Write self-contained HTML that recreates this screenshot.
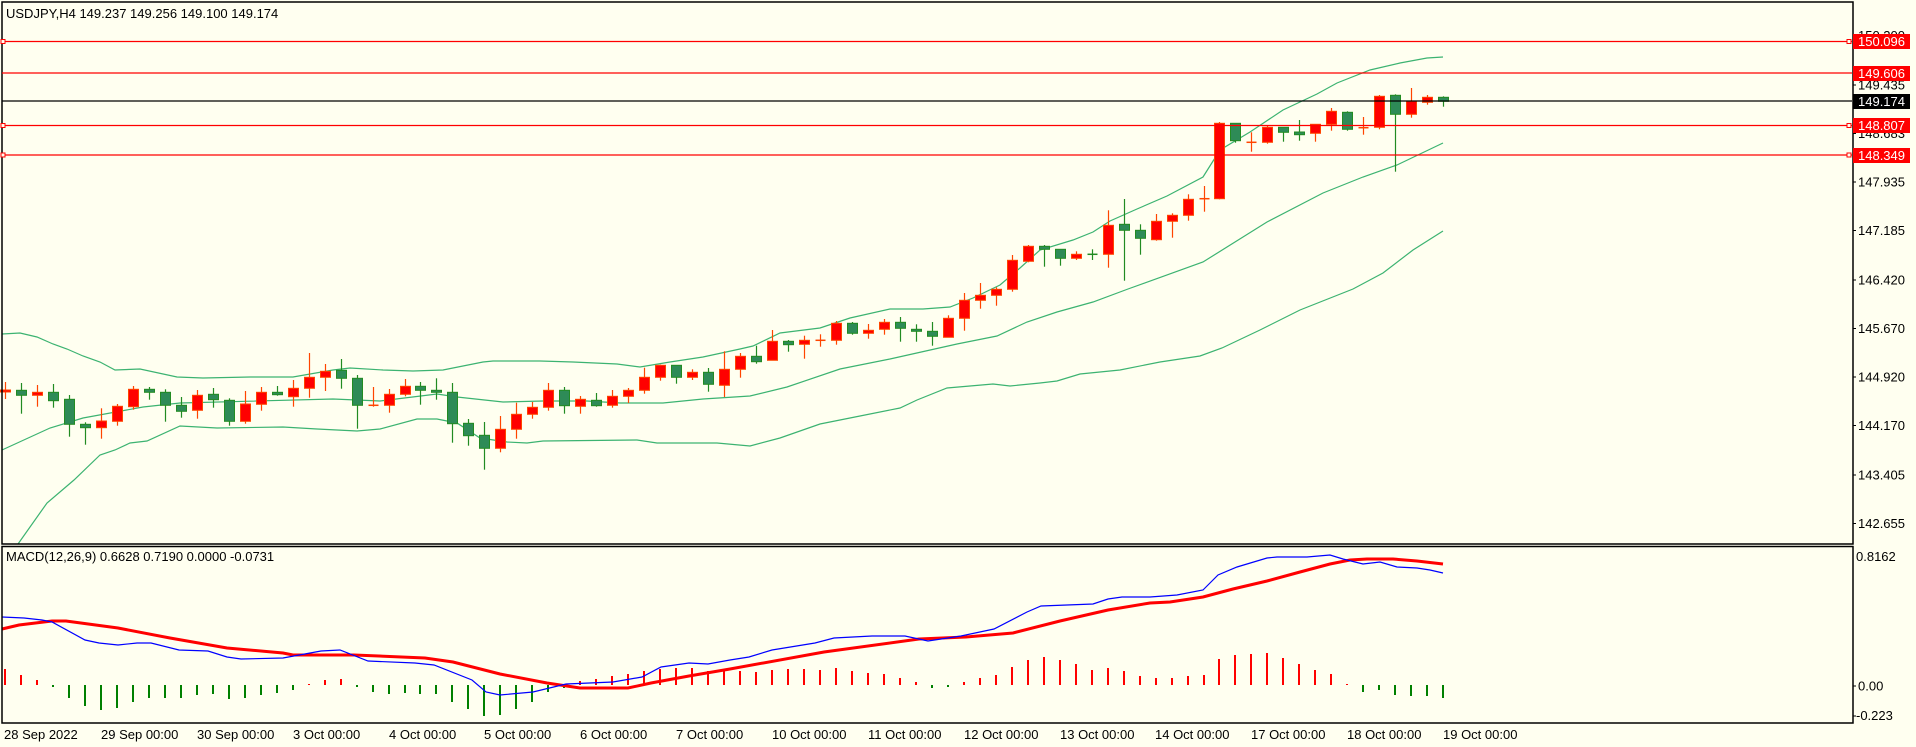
<!DOCTYPE html>
<html><head><meta charset="utf-8"><style>
html,body{margin:0;padding:0;background:#fffff0;}
svg{display:block;font-family:"Liberation Sans",sans-serif;}
</style></head><body>
<svg id="s" width="1916" height="747" xmlns="http://www.w3.org/2000/svg">
<rect width="1916" height="747" fill="#fffff0"/>
<g id="g"></g>
<!-- borders -->
<rect x="2" y="2" width="1851" height="542" fill="none" stroke="#000" stroke-width="1.5"/>
<rect x="2" y="546.5" width="1851" height="176.5" fill="none" stroke="#000" stroke-width="1.5"/>
<text x="6" y="18" font-size="13">USDJPY,H4  149.237 149.256 149.100 149.174</text>
<text x="6" y="561" font-size="13">MACD(12,26,9) 0.6628 0.7190 0.0000 -0.0731</text>
<g font-size="13" fill="#000">
<text x="1858" y="40">150.200</text>
<text x="1858" y="89.5">149.435</text>
<text x="1858" y="138">148.683</text>
<text x="1858" y="186.5">147.935</text>
<text x="1858" y="235">147.185</text>
<text x="1858" y="284.5">146.420</text>
<text x="1858" y="333">145.670</text>
<text x="1858" y="381.5">144.920</text>
<text x="1858" y="430">144.170</text>
<text x="1858" y="479.5">143.405</text>
<text x="1858" y="528">142.655</text>
<text x="1856" y="561">0.8162</text>
<text x="1858" y="690.5">0.00</text>
<text x="1856" y="720">-0.223</text>
</g>
<g stroke="#000" stroke-width="1">
<line x1="1853" y1="35.5" x2="1856" y2="35.5"/><line x1="1853" y1="85" x2="1856" y2="85"/>
<line x1="1853" y1="133.5" x2="1856" y2="133.5"/><line x1="1853" y1="182" x2="1856" y2="182"/>
<line x1="1853" y1="230.5" x2="1856" y2="230.5"/><line x1="1853" y1="280" x2="1856" y2="280"/>
<line x1="1853" y1="328.5" x2="1856" y2="328.5"/><line x1="1853" y1="377" x2="1856" y2="377"/>
<line x1="1853" y1="425.5" x2="1856" y2="425.5"/><line x1="1853" y1="475" x2="1856" y2="475"/>
<line x1="1853" y1="523.5" x2="1856" y2="523.5"/><line x1="1853" y1="686" x2="1856" y2="686"/>
<line x1="1853" y1="716" x2="1856" y2="716"/>
</g>
<!-- horizontal lines -->
<g stroke="#ff0000" stroke-width="1.2">
<line x1="2" y1="41.5" x2="1852" y2="41.5"/>
<line x1="2" y1="73" x2="1852" y2="73"/>
<line x1="2" y1="125.5" x2="1852" y2="125.5"/>
<line x1="2" y1="155" x2="1852" y2="155"/>
</g>
<line x1="2" y1="101" x2="1852" y2="101" stroke="#000" stroke-width="1.2"/>
<g fill="#fffff0" stroke="#ff0000" stroke-width="1">
<rect x="1" y="39.5" width="4" height="4"/><rect x="1847" y="39.5" width="4" height="4"/>
<rect x="1" y="123.5" width="4" height="4"/><rect x="1847" y="123.5" width="4" height="4"/>
<rect x="1" y="153" width="4" height="4"/><rect x="1847" y="153" width="4" height="4"/>
</g>
<g font-size="13">
<rect x="1853" y="34" width="57" height="15" fill="#ff0000"/><text x="1858" y="46" fill="#fff">150.096</text>
<rect x="1853" y="66" width="57" height="15" fill="#ff0000"/><text x="1858" y="78" fill="#fff">149.606</text>
<rect x="1853" y="94" width="57" height="15" fill="#000"/><text x="1858" y="106" fill="#fff">149.174</text>
<rect x="1853" y="118" width="57" height="15" fill="#ff0000"/><text x="1858" y="130" fill="#fff">148.807</text>
<rect x="1853" y="148" width="57" height="15" fill="#ff0000"/><text x="1858" y="160" fill="#fff">148.349</text>
</g>
<g font-size="13">
<text x="4" y="739">28 Sep 2022</text>
<text x="101" y="739">29 Sep 00:00</text>
<text x="197" y="739">30 Sep 00:00</text>
<text x="293" y="739">3 Oct 00:00</text>
<text x="389" y="739">4 Oct 00:00</text>
<text x="484" y="739">5 Oct 00:00</text>
<text x="580" y="739">6 Oct 00:00</text>
<text x="676" y="739">7 Oct 00:00</text>
<text x="772" y="739">10 Oct 00:00</text>
<text x="868" y="739">11 Oct 00:00</text>
<text x="964" y="739">12 Oct 00:00</text>
<text x="1060" y="739">13 Oct 00:00</text>
<text x="1155" y="739">14 Oct 00:00</text>
<text x="1251" y="739">17 Oct 00:00</text>
<text x="1347" y="739">18 Oct 00:00</text>
<text x="1443" y="739">19 Oct 00:00</text>
</g>
</svg>
<script>
var NS="http://www.w3.org/2000/svg",g=document.getElementById("g");
function el(t,a){var e=document.createElementNS(NS,t);for(var k in a)e.setAttribute(k,a[k]);g.appendChild(e);return e;}
function pl(pts,c,w){el("polyline",{points:pts.map(function(p){return p.join(",")}).join(" "),fill:"none",stroke:c,"stroke-width":w});}
var up=[[2,334],[20,333],[37,337],[53,344],[67,349],[83,356],[100,362],[115,370],[140,369],[177,377],[203,378],[250,377],[293,377],[333,370],[350,368],[383,370],[413,371],[443,370],[483,362],[493,361],[540,361],[573,362],[617,364],[640,367],[670,362],[703,357],[740,349],[753,346],[780,333],[820,328],[850,318],[890,309],[923,309],[950,307],[973,298],[1000,285],[1020,268],[1040,250],[1073,240],[1093,232],[1110,221],[1137,209],[1167,196],[1203,177],[1220,150],[1250,132],[1283,110],[1317,94],[1337,83],[1370,70],[1400,63],[1427,58],[1443,57]];
var mid=[[2,450],[50,428],[83,418],[143,407],[180,403],[333,399],[380,401],[437,394],[457,397],[503,402],[543,401],[587,401],[620,403],[663,403],[703,399],[750,396],[787,387],[840,369],[890,359],[957,344],[997,336],[1027,322],[1057,312],[1093,302],[1128,289],[1203,262],[1267,222],[1323,193],[1363,177],[1397,165],[1443,143]];
var lo=[[18,544],[47,503],[74,480],[100,455],[115,450],[130,443],[147,441],[180,426],[217,428],[283,427],[317,429],[357,431],[380,429],[417,419],[437,419],[457,423],[480,438],[507,442],[527,443],[543,441],[637,440],[657,443],[717,443],[750,446],[780,438],[820,424],[860,416],[900,408],[917,400],[947,388],[993,384],[1010,386],[1040,383],[1057,381],[1080,374],[1120,370],[1160,362],[1200,356],[1222,348],[1260,330],[1300,310],[1353,289],[1383,273],[1413,250],[1443,231]];
pl(up,"#3cb371",1.2);pl(mid,"#3cb371",1.2);pl(lo,"#3cb371",1.2);
var C=[
["r",390,392,382,399],["g",390.3,395.3,383,413.7],["r",392.3,395.3,385,406.7],["g",392.3,400.7,384,407.7],["g",399.3,424.3,395,436.7],["g",424.3,427.7,422.3,444.7],["r",421,427.7,408.3,438.7],["r",406.3,421.3,404,425.7],["r",389.3,406.7,386,409.7],["g",389.3,392.3,387,399.7],
["g",392.3,405.3,389.3,421.7],["g",405.3,411.3,397,417.7],["r",395.3,410.3,390,418.7],["g",394.3,399.7,388,407.7],["g",400.3,421.3,398.3,425.7],["r",404,421.3,391,423.7],["r",392.3,404.3,387,410.7],["g",392.3,394.7,386,395.7],["r",388.3,396.7,380,406.7],["r",377.3,388.3,353,397.7],
["r",371.3,377.3,364,391],["g",370.3,378.3,359,388.7],["g",378.3,405.3,375,428.7],["r",405.3,405.7,387,406.7],["r",394.3,405.3,389,412.7],["r",386.3,394.3,379,396.3],["g",386.3,390.3,382,404.7],["g",390.3,392.3,378.3,399.7],["g",392.3,423.7,383,442.7],["g",423.3,435.7,419,445.7],
["g",435.3,448.3,422,469.7],["r",429.3,448.3,416,452.3],["r",414.3,429.3,402.7,438.7],["r",407.3,414.3,402,418.7],["r",390.3,407.3,383,410.7],["g",390.3,405.7,387,413.7],["r",399.3,406.3,396,413.7],["g",400.3,405.7,393,406.7],["r",396.3,405.3,390,407.7],["r",390.3,396.3,388,403],
["r",377.3,390.3,367.7,393.7],["r",365.3,377.3,364.7,380.7],["g",365.3,377.3,365.3,383.7],["r",372.3,377.3,369.3,380],["g",372.3,384.3,368,391.7],["r",369.3,385.3,351.3,397],["r",356.3,369.3,353,377.7],["g",356.3,361.7,345.7,363.7],["r",341.3,360.3,330,360.3],["g",341.3,344.7,340,351.7],
["r",340.3,344.3,335.7,358.7],["r",340.3,340.3,334.3,346.7],["r",323.3,340.3,321,344.7],["g",323.3,333.3,322,334.7],["r",330.3,333.3,324,338.7],["r",322.3,329.3,319,334.7],["g",322.3,328.3,317,341.7],["g",329.3,331.3,324.3,341.7],["g",331.3,336.3,322,345.7],["r",318.3,337.3,315.3,337.3],
["r",300.3,318.3,293,330.7],["r",295.3,300.3,283,308.7],["r",289.3,295.3,287.3,305.7],["r",260.3,289.3,255,291.7],["r",246.3,261.3,245,262.3],["g",246.3,249.3,245,266.7],["g",249.3,258.3,249.3,265.7],["r",254.3,258.3,251.3,260],["g",254.3,254.3,249.3,260],["r",225.3,254.3,210.3,267.7],
["g",224.3,230.3,199,280.7],["g",230.3,238.3,224.3,254.7],["r",221.3,239.7,214,240.7],["r",215.3,221.3,213.3,237.7],["r",199.3,215.3,194.3,220.7],["r",198.7,198.7,186,211.7],["r",123.3,198.7,122,199.3],["g",123.3,140.7,123.3,142.7],["r",142.3,142.3,132.3,151.7],["r",127.3,142.3,125.7,143.7],
["g",127.3,132.3,127.3,141.7],["g",132,134.7,120,140.7],["r",124.3,133.3,124.3,141.7],["r",111.3,124.3,108,130.7],["g",112.3,129.3,111.3,130.7],["r",127.7,127.7,117,134.7],["r",96.3,127.3,95,129.3],["g",95.3,114.3,94.3,171.7],["r",101.3,114.3,88,117.7],["r",97.3,102.3,95,104.7],
["g",97.3,101.3,96.3,106.7]];
C.forEach(function(c,i){
 var x=Math.round(5+15.98*i)+0.5,red=c[0]=="r";
 var wc=red?"#ff4500":"#228b22";
 el("line",{x1:x,y1:c[3],x2:x,y2:c[4],stroke:wc,"stroke-width":1.2});
 var h=c[2]-c[1];
 if(h<1.5){el("line",{x1:x-5,y1:c[1],x2:x+5,y2:c[1],stroke:wc,"stroke-width":1.5});}
 else el("rect",{x:x-5,y:c[1],width:10,height:h,fill:red?"#ff0000":"#2e8b57",stroke:wc,"stroke-width":1});
});
var H=[16,10,5,-2,-13,-21,-25,-23,-17,-13,-13,-13,-10,-9,-14,-13,-10,-8,-5,1,5,6,-2,-7,-9,-8,-9,-9,-17,-24,-31,-30,-24,-17,-7,-3,4,6,9,11,14,16,17,17,14,14,14,13,15,16,16,15,17,14,12,11,7,3,-3,-2,3,7,10,18,25,28,25,21,15,17,14,9,7,7,9,10,26,30,31,32,27,21,15,11,1,-7,-5,-10,-11,-11,-13];
H.forEach(function(v,i){var x=Math.round(5+15.98*i);
 el("rect",{x:x-1,y:v>0?685-v:685,width:2,height:Math.max(Math.abs(v),1),fill:v>0?"#ff0000":"#008000"});});
var blue=[[2,617],[24,618],[42,620],[52,622],[85,640],[99,643],[118,645],[137,643],[151,643],[179,650],[208,651],[227,657],[241,659],[283,658],[321,651],[340,650],[368,661],[415,663],[434,665],[472,680],[486,692],[500,695],[533,692],[566,684],[613,682],[642,677],[661,667],[689,663],[708,664],[730,660],[749,657],[772,650],[815,643],[834,638],[872,636],[905,636],[928,641],[961,636],[994,629],[1027,612],[1041,606],[1093,604],[1108,599],[1122,597],[1150,597],[1177,595],[1203,590],[1218,575],[1237,567],[1267,558],[1277,557],[1307,557],[1330,555],[1343,559],[1363,564],[1380,562],[1397,567],[1417,568],[1430,570],[1443,573]];
var sig=[[2,629],[19,625],[52,621],[66,621],[118,628],[170,638],[227,648],[283,653],[293,655],[354,655],[425,658],[453,662],[500,674],[547,683],[580,688],[628,688],[651,683],[689,676],[730,669],[824,652],[919,639],[966,637],[1013,633],[1060,621],[1108,610],[1150,603],[1170,602],[1203,597],[1233,589],[1267,581],[1300,572],[1330,564],[1350,560],[1367,559],[1393,559],[1417,561],[1443,564]];
pl(sig,"#ff0000",3);pl(blue,"#0000ff",1.2);
</script>
</body></html>
